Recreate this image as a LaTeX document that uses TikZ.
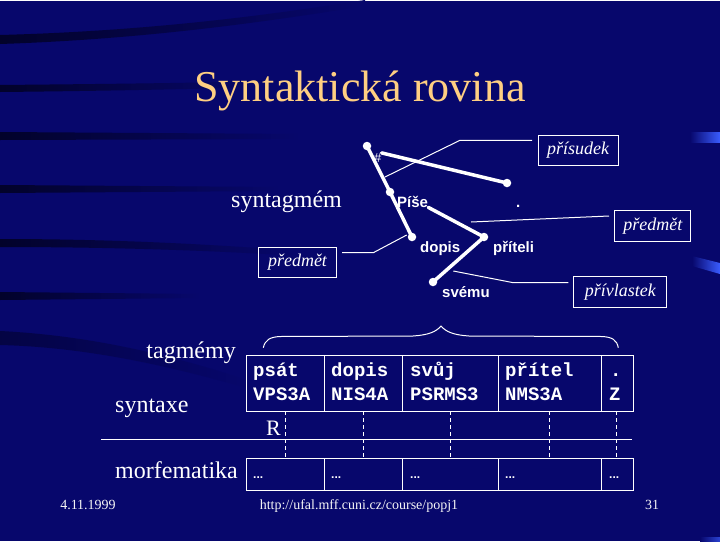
\documentclass[tikz,border=0pt]{standalone}
\usepackage{fontspec}
\setmainfont{Liberation Serif}
\newfontfamily\sansfam{Liberation Sans}
\newfontfamily\tabfont{Liberation Mono}
\definecolor{bg}{HTML}{07076C}
\definecolor{dk}{HTML}{02022A}
\definecolor{titlecol}{HTML}{FFCF82}
\definecolor{hl}{HTML}{3A5CFF}
\begin{document}
\begin{tikzpicture}[x=1pt,y=-1pt,
  treeline/.style={draw=white, line width=3.5pt, line cap=round},
  tdot/.style={circle, fill=white, inner sep=0pt, minimum size=8.5pt},
  thinline/.style={draw=white, line width=1pt},
  lbox/.style={draw=white, line width=1pt, text=white, inner sep=0pt, font=\fontsize{18}{20}\selectfont\itshape},
  ttext/.style={text=white, inner sep=0pt, font=\fontsize{15}{17}\selectfont\sansfam\bfseries},
  big/.style={text=white, inner sep=0pt, font=\fontsize{24}{28}\selectfont},
  monotxt/.style={text=white, inner sep=0pt, anchor=base west, font=\fontsize{19}{22}\selectfont\tabfont\bfseries},
  dots/.style={text=white, inner sep=0pt, anchor=base west, font=\fontsize{12}{14}\selectfont\sansfam\bfseries},
  cell/.style={draw=white, line width=1pt},
  guide/.style={draw=white, line width=1pt, dash pattern=on 4pt off 3pt},
  foot/.style={text=white!92!gray, inner sep=0pt, anchor=base, font=\fontsize{14}{16}\selectfont},
  darkband/.style={left color=dk, right color=bg},
]
% background
\fill[bg] (0,0) rectangle (720,540);
\shade[darkband] (0,34) .. controls (150,30) and (270,14) .. (365,-1) -- (365,5) .. controls (270,20) and (150,38) .. (0,43) -- cycle;
\shade[darkband] (0,84) .. controls (100,83) and (200,82) .. (260,80) -- (260,86) .. controls (200,88) and (100,90) .. (0,91) -- cycle;
\shade[darkband] (0,131) -- (300,133) -- (300,138) -- (0,139) -- cycle;
\shade[darkband] (0,184) -- (280,186) -- (280,190) -- (0,192) -- cycle;
\shade[darkband] (0,238) .. controls (120,238) and (220,244) .. (300,250) -- (300,255) .. controls (220,250) and (120,246) .. (0,246) -- cycle;
\shade[darkband] (0,291) -- (200,293) -- (200,297) -- (0,299) -- cycle;
\shade[darkband, opacity=0.6] (0,330) .. controls (80,334) and (160,350) .. (250,380) -- (250,388) .. controls (160,362) and (80,346) .. (0,344) -- cycle;
\shade[left color=bg, right color=hl] (690,131) rectangle (720,141);
\shade[left color=bg, right color=hl] (692,255) -- (720,262) -- (720,273) -- (692,265) -- cycle;
\shade[left color=bg, right color=hl!70!bg] (700,536) rectangle (720,540);

% title
\node[anchor=base, text=titlecol, inner sep=0pt, font=\fontsize{44}{48}\selectfont] (title) at (360,100) {Syntaktická rovina};

% tree
\coordinate (r) at (367,145);
\coordinate (p) at (390,191);
\coordinate (d) at (412,236);
\coordinate (f) at (484,236);
\coordinate (s) at (433,281);
\coordinate (e) at (507,182);
\node[anchor=base west, text=white, inner sep=0pt, font=\fontsize{13}{15}\selectfont\sansfam] (hash) at (374,161) {\#};
\node[ttext, anchor=base west] (pise) at (397,206) {Píše};
\node[ttext, anchor=base west] (dopis) at (420,251) {dopis};
\node[ttext, anchor=base west] (pritel) at (493,251) {příteli};
\node[ttext, anchor=base west] (svemu) at (442,296) {svému};
\node[ttext, anchor=base west] (period) at (516,206) {.};
\draw[treeline] (r) -- (p) -- (d);
\draw[treeline] (hash.north east) -- (e);
\draw[treeline] (pise.south east) -- (f);
\draw[treeline] (f) -- (s);
\foreach \n in {r,p,d,f,s,e} { \node[tdot] at (\n) {}; }

% labels
\node[big, anchor=base west] (sgm) at (231,206) {syntagmém};
\node[lbox, minimum width=80pt, minimum height=29.5pt] (prisudek) at (578,149.5) {přísudek};
\node[lbox, minimum width=75.7pt, minimum height=30.7pt] (predR) at (652.8,225.3) {předmět};
\node[lbox, minimum width=78.4pt, minimum height=30pt] (predL) at (297.5,261) {předmět};
\node[lbox, minimum width=92.7pt, minimum height=30.7pt] (privl) at (620.3,291.3) {přívlastek};

\coordinate (a1) at (532,139.3);
\coordinate (a2) at (460,139.3);
\coordinate (a3) at (385,176);
\draw[thinline] (a1) -- (a2) -- (a3);
\coordinate (b1) at (609,215);
\coordinate (b2) at (471,221);
\draw[thinline] (b1) -- (b2);
\coordinate (c1) at (342,251.7);
\coordinate (c2) at (373.3,251.7);
\coordinate (c3) at (406.7,234);
\draw[thinline] (c1) -- (c2) -- (c3);
\coordinate (d1) at (568.3,281.7);
\coordinate (d2) at (513.3,281.7);
\coordinate (d3) at (453.3,270);
\draw[thinline] (d1) -- (d2) -- (d3);

% brace
\draw[thinline] (263.3,346.7) .. controls (265,339) and (270,336) .. (280,335.5) -- (413,335)
  .. controls (428,334) and (436,331) .. (441,325)
  .. controls (446,331) and (454,334) .. (469,335) -- (602,335.5)
  .. controls (612,336) and (617,339) .. (618.3,346.7);

% table
\foreach \a/\b in {246/324, 324/402, 402/498, 498/601, 601/633} {
  \draw[cell] (\a,354) rectangle (\b,410);
  \draw[cell] (\a,457) rectangle (\b,489);
}
\foreach \x in {285.7, 363.3, 450.7, 549.3, 616.7} {
  \draw[guide] (\x,410) -- (\x,457);
}
\draw[thinline] (101,438) -- (632,438);

\node[monotxt] at (253,375) {psát};
\node[monotxt] at (253,399) {VPS3A};
\node[monotxt] at (331,375) {dopis};
\node[monotxt] at (331,399) {NIS4A};
\node[monotxt] at (410,375) {svůj};
\node[monotxt] at (410,399) {PSRMS3};
\node[monotxt] at (505,375) {přítel};
\node[monotxt] at (505,399) {NMS3A};
\node[monotxt] at (610,375) {.};
\node[monotxt] at (609,399) {Z};

\node[big, anchor=base west, font=\fontsize{22}{26}\selectfont] (R) at (266,434) {R};

\foreach \x in {253, 331, 410, 505, 609} {
  \node[dots] at (\x,477) {...};
}

% left labels
\node[big, anchor=base east] (tag) at (236,357) {tagmémy};
\node[big, anchor=base west] (syn) at (115,411) {syntaxe};
\node[big, anchor=base west] (morf) at (115,477) {morfematika};

% footer
\node[foot] (date) at (88,508) {4.11.1999};
\node[foot] (url) at (359,508) {http://ufal.mff.cuni.cz/course/popj1};
\node[foot] (num) at (652,508) {31};
\end{tikzpicture}
\end{document}
